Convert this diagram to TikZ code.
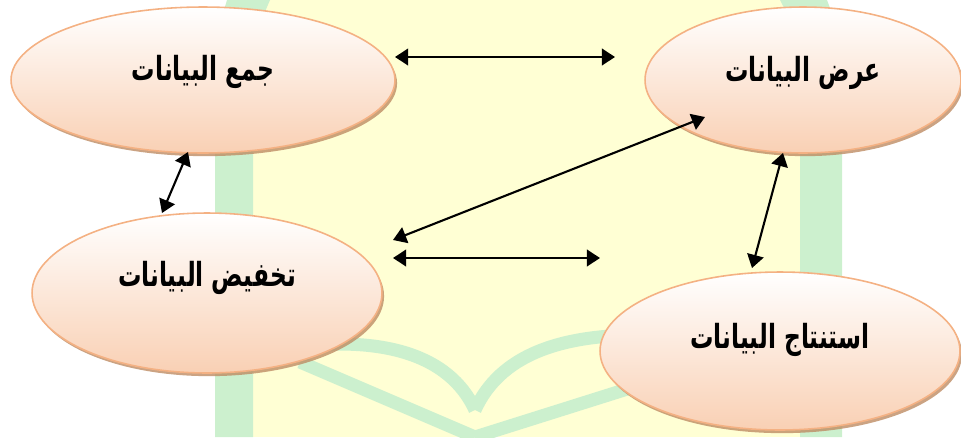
\documentclass[tikz,border=0pt]{standalone}
\usepackage{fontspec}
\usetikzlibrary{arrows.meta,shadows,calc,shapes.geometric}
\TeXXeTstate=1
\newfontfamily\arabicfont[Script=Arabic]{DejaVu Sans}
\definecolor{peachD}{RGB}{244,177,131}
\definecolor{peachB}{RGB}{249,208,180}
\definecolor{shadowc}{RGB}{190,140,100}
\definecolor{wmgreen}{RGB}{204,240,206}
\definecolor{wmyellow}{RGB}{255,255,212}
\tikzset{
  ell/.style={ellipse, draw=peachD, line width=0.9pt, top color=white, bottom color=peachB,
    inner sep=0pt, outer sep=0pt,
    drop shadow={shadow xshift=1.2pt, shadow yshift=-1.8pt, fill=shadowc, opacity=0.8}},
  lbl/.style={font=\arabicfont\bfseries\fontsize{14}{17}\selectfont, inner sep=0pt,
    xscale=0.95, yscale=1.35, transform shape},
  arr/.style={{Triangle[length=7.5pt,width=9.5pt]}-{Triangle[length=7.5pt,width=9.5pt]}, line width=1.2pt},
  wm/.style={draw=wmgreen, line width=0.26cm}
}
\begin{document}
\begin{tikzpicture}[x=0.02cm,y=-0.02cm]
\useasboundingbox (0,0) rectangle (961,437);
% watermark background
\fill[wmyellow] (253,0) rectangle (800,437);
\fill[wmgreen] (227,0) -- (270,0) -- (253,40) -- (253,437) -- (215,437) -- (215,40) -- cycle;
\fill[wmgreen] (780,0) -- (827,0) -- (842,40) -- (842,437) -- (800,437) -- (800,40) -- cycle;
\draw[wm] (262,352) .. controls (380,330) and (450,355) .. (475,410);
\draw[wm] (475,410) .. controls (500,355) and (560,335) .. (640,335);
\draw[wm] (300,362) -- (475,437);
\draw[wm] (475,437) -- (640,385);
% nodes
\node[ell, minimum width=7.68cm, minimum height=2.92cm] (e1) at (203,80) {};
\node[ell, minimum width=6.32cm, minimum height=2.92cm] (e2) at (803,80) {};
\node[ell, minimum width=7.0cm, minimum height=3.2cm] (e3) at (207,293) {};
\node[ell, minimum width=7.2cm, minimum height=3.16cm] (e4) at (780,351) {};
\node[lbl] (t1) at ($(e1.center)+(0,-8)$) {\beginR جمع البيانات\endR};
\node[lbl] (t2) at ($(e2.center)+(0,-7)$) {\beginR عرض البيانات\endR};
\node[lbl] (t3) at ($(e3.center)+(0,-15)$) {\beginR تخفيض البيانات\endR};
\node[lbl] (t4) at ($(e4.center)+(0,-11)$) {\beginR استنتاج البيانات\endR};
% connector end points
\coordinate (a1) at ($(e1.center)+(192,-23)$);
\coordinate (a2) at (615,57);
\coordinate (b1) at ($(e1.center)+(-15,72)$);
\coordinate (b2) at ($(e3.center)+(-45,-80)$);
\coordinate (c1) at ($(e3.center)+(186,-53)$);
\coordinate (c2) at ($(e2.center)+(-98,37)$);
\coordinate (d1) at ($(e3.center)+(186,-35)$);
\coordinate (d2) at (600,258);
\coordinate (f1) at ($(e2.center)+(-20,73)$);
\coordinate (f2) at ($(e4.center)+(-28,-83)$);
\draw[arr] (a1) -- (a2);
\draw[arr] (b1) -- (b2);
\draw[arr] (c1) -- (c2);
\draw[arr] (d1) -- (d2);
\draw[arr] (f1) -- (f2);
\end{tikzpicture}
\end{document}
